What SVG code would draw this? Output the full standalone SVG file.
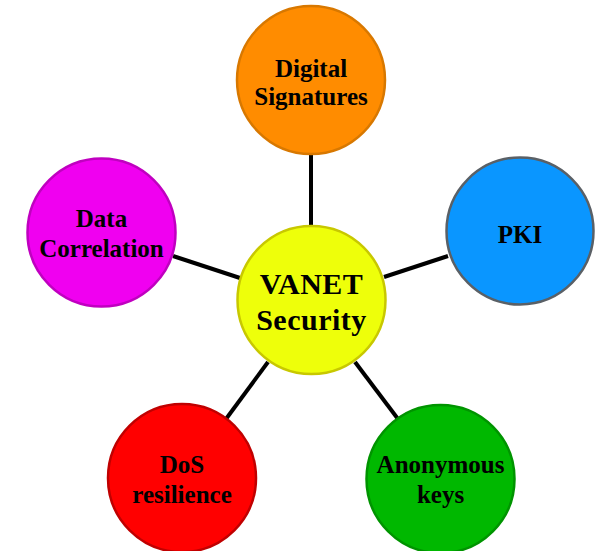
<svg xmlns="http://www.w3.org/2000/svg" width="596" height="551" viewBox="0 0 596 551">
<style>
.c{stroke-width:2.5}
.t{font-family:"Liberation Serif","Times New Roman",serif;font-weight:bold;font-size:25px;text-anchor:middle;fill:#000}
.big{font-size:30px;letter-spacing:0.5px}
.e{stroke:#000;stroke-width:4;fill:none}
</style>
<rect width="596" height="551" fill="#fff"/>
<g id="connectors">
<line class="e" x1="311" y1="155" x2="311" y2="227"/>
<line class="e" x1="384" y1="277" x2="448" y2="256"/>
<line class="e" x1="173" y1="256" x2="240" y2="278"/>
<line class="e" x1="226" y1="419" x2="268" y2="362"/>
<line class="e" x1="355" y1="362" x2="398" y2="419"/>
</g>
<g id="center">
<circle class="c" cx="311.5" cy="300" r="74" fill="#EEFF0A" stroke="#C8C800"/>
<text class="t big" x="311.5" y="294">VANET</text>
<text class="t big" x="311.5" y="330">Security</text>
</g>
<g id="digital-signatures">
<circle class="c" cx="311" cy="80" r="74" fill="#FF8C00" stroke="#D87800"/>
<text class="t" x="311" y="77">Digital</text>
<text class="t" x="311" y="105">Signatures</text>
</g>
<g id="pki">
<circle class="c" cx="520" cy="231" r="73.5" fill="#0A96FF" stroke="#5A6066" stroke-width="3"/>
<text class="t" x="520" y="243">PKI</text>
</g>
<g id="data-correlation">
<circle class="c" cx="101.5" cy="232.5" r="74" fill="#F000F0" stroke="#C000C0"/>
<text class="t" x="101.5" y="227">Data</text>
<text class="t" x="101.5" y="257">Correlation</text>
</g>
<g id="dos-resilience">
<circle class="c" cx="182" cy="478" r="74" fill="#FF0000" stroke="#C00000"/>
<text class="t" x="182" y="473">DoS</text>
<text class="t" x="182" y="503">resilience</text>
</g>
<g id="anonymous-keys">
<circle class="c" cx="440.5" cy="479" r="74" fill="#00B800" stroke="#009400"/>
<text class="t" x="440.5" y="473">Anonymous</text>
<text class="t" x="440.5" y="503">keys</text>
</g>
</svg>
